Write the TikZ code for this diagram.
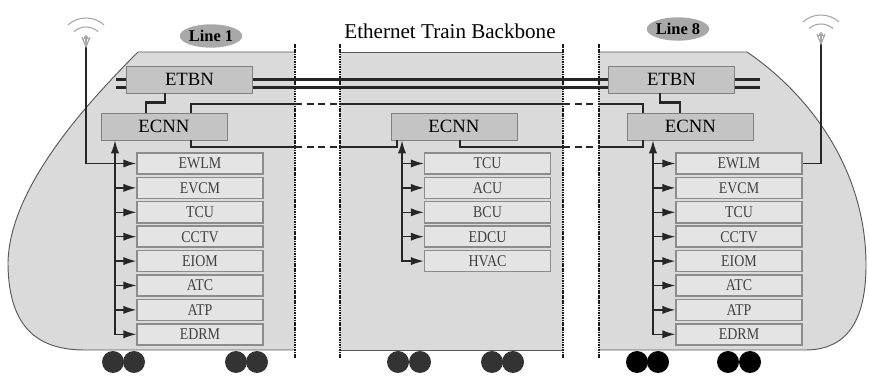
\documentclass[tikz,border=0pt]{standalone}
\usepackage{fontspec}
\setmainfont{Liberation Serif}
\newfontfamily\devfont[FakeStretch=0.85]{Liberation Serif}
\usetikzlibrary{arrows.meta, shapes.geometric}
\definecolor{carroceria}{RGB}{218,218,218}
\definecolor{unidad}{RGB}{196,196,196}
\definecolor{equipof}{RGB}{228,228,228}
\definecolor{etiqueta}{RGB}{168,168,168}

\begin{document}
\begin{tikzpicture}[
        x=0.03cm, y=-0.03cm,
        coche/.style={draw=black!65, line width=0.8pt},
        corte/.style={draw=black!90, line width=1.3pt, dash pattern=on 1.4pt off 0.7pt},
        nodo/.style={
            rectangle, draw=black!50, fill=unidad, line width=0.8pt,
            minimum width=3.78cm, minimum height=0.81cm, inner sep=0pt,
            font=\fontsize{16}{16}\selectfont
        },
        equipo/.style={
            rectangle, draw=black!45, fill=equipof, line width=1.2pt,
            minimum width=3.78cm, minimum height=0.63cm, inner sep=0pt,
            text=black!75, font=\devfont\fontsize{14}{14}\selectfont
        },
        enlace/.style={draw=black!85, line width=2.3pt},
        tramo/.style={enlace, dash pattern=on 6pt off 4pt},
        bus/.style={draw=black!85, line width=1.1pt},
        punta/.tip={Latex[length=11pt, width=7pt]},
        flecha/.style={bus, -punta},
        antena/.style={draw=black!85, line width=1.5pt},
        onda/.style={draw=black!35, line width=0.9pt},
        linea/.style={
            ellipse, fill=etiqueta, minimum width=1.86cm, minimum height=0.7cm,
            inner sep=0pt, font=\fontsize{14}{14}\selectfont\bfseries
        },
        rueda/.style={circle, fill=#1, minimum size=0.66cm, inner sep=0pt}
    ]
    \useasboundingbox (0,0) rectangle (869,377);

    % coches
    \fill[carroceria] (295,52) -- (138,52) .. controls (80,110) and (10,190) .. (8,262)
        .. controls (8,330) and (40,350) .. (85,350) -- (295,350) -- cycle;
    \draw[coche] (295,52) -- (138,52) .. controls (80,110) and (10,190) .. (8,262)
        .. controls (8,330) and (40,350) .. (85,350) -- (295,350);
    \fill[carroceria] (340,52) rectangle (563,350);
    \draw[coche] (340,52) -- (563,52);
    \draw[coche] (340,350) -- (563,350);
    \fill[carroceria] (599,52) -- (747,52) .. controls (810,95) and (866,170) .. (866,265)
        .. controls (866,330) and (840,350) .. (805,350) -- (599,350) -- cycle;
    \draw[coche] (599,52) -- (747,52) .. controls (810,95) and (866,170) .. (866,265)
        .. controls (866,330) and (840,350) .. (805,350) -- (599,350);

    \foreach \x/\nombre in {295/cA, 340/cB, 563/cC, 599/cD} {
        \coordinate (\nombre) at (\x,0);
        \draw[corte] (\x,44) -- (\x,358);
    }
    \coordinate (arriba) at (0,104);
    \coordinate (abajo) at (0,147);

    \foreach \x [count=\n] in {113,134,236,257,398,420,492,513}
        \node[rueda=black!80] (rueda\n) at (\x,362) {};
    \foreach \x [count=\n from 9] in {637,658,728,750}
        \node[rueda=black] (rueda\n) at (\x,362) {};

    \node[linea] (linea1) at (211,36) {Line 1};
    \node[linea] (linea8) at (678,29) {Line 8};
    \node[font=\fontsize{18}{18}\selectfont] (titulo) at (450,31) {Ethernet Train Backbone};

    % switches
    \node[nodo] (etbn1) at (189.5,79.5) {ETBN};
    \node[nodo] (etbn8) at (671.5,79.5) {ETBN};
    \node[nodo] (ecnn1) at (164,126.5) {ECNN};
    \node[nodo] (ecnnM) at (454,126.5) {ECNN};
    \node[nodo] (ecnn8) at (690.5,126.5) {ECNN};

    % equipos de cada coche
    \foreach \texto [count=\n] in {EWLM,EVCM,TCU,CCTV,EIOM,ATC,ATP,EDRM} {
        \node[equipo] (izq\n) at (200,{163.5+24.4*(\n-1)}) {\texto};
        \node[equipo] (der\n) at (739,{163.5+24.4*(\n-1)}) {\texto};
    }
    \foreach \texto [count=\n] in {TCU,ACU,BCU,EDCU,HVAC}
        \node[equipo] (cen\n) at (487.5,{163.5+24.4*(\n-1)}) {\texto};

    % backbone
    \draw[enlace] (etbn1.east) -- (etbn8.west);
    \draw[enlace] ([yshift=-6.8pt]etbn1.east) -- ([yshift=-6.8pt]etbn8.west);
    \draw[enlace] (etbn1.west) -- ++(-10,0);
    \draw[enlace] ([yshift=-6.8pt]etbn1.west) -- ++(-10,0);
    \draw[enlace] (etbn8.east) -- ++(25,0);
    \draw[enlace] ([yshift=-6.8pt]etbn8.east) -- ++(25,0);

    \draw[enlace] ([xshift=-0.735cm]etbn1.south) -- ++(0,9) -| ([xshift=-0.54cm]ecnn1.north);
    \draw[enlace] ([xshift=-0.345cm]etbn8.south) -- ++(0,9) -| ([xshift=-0.315cm]ecnn8.north);

    % anillo ECNN
    \draw[enlace] ([xshift=0.81cm]ecnn1.north) |- (cA |- arriba);
    \draw[tramo] (cA |- arriba) -- (cB |- arriba);
    \draw[enlace] (cB |- arriba) -- (cC |- arriba);
    \draw[tramo] (cC |- arriba) -- (cD |- arriba);
    \draw[enlace] (cD |- arriba) -| ([xshift=-1.425cm]ecnn8.north);

    \draw[enlace] ([xshift=0.81cm]ecnn1.south) |- (cA |- abajo);
    \draw[tramo] (cA |- abajo) -- (cB |- abajo);
    \draw[enlace] (cB |- abajo) -| ([xshift=-1.71cm]ecnnM.south);
    \draw[enlace] ([xshift=0.18cm]ecnnM.south) |- (cC |- abajo);
    \draw[tramo] (cC |- abajo) -- (cD |- abajo);
    \draw[enlace] (cD |- abajo) -| ([xshift=-1.425cm]ecnn8.south);

    % buses
    \coordinate (bus1) at (115,0);
    \coordinate (busM) at (402,0);
    \coordinate (bus8) at (653,0);
    \draw[bus, punta-punta] (bus1 |- ecnn1.south) |- (izq8.west);
    \foreach \n in {2,...,7}
        \draw[flecha] (bus1 |- izq\n.west) -- (izq\n.west);
    \draw[bus, punta-punta] (busM |- ecnnM.south) |- (cen5.west);
    \foreach \n in {1,...,4}
        \draw[flecha] (busM |- cen\n.west) -- (cen\n.west);
    \draw[bus, punta-punta] (bus8 |- ecnn8.south) |- (der8.west);
    \foreach \n in {1,...,7}
        \draw[flecha] (bus8 |- der\n.west) -- (der\n.west);

    % antenas
    \coordinate (antena1) at (86,47);
    \coordinate (antena8) at (821,44);
    \draw[antena, -punta] (antena1) |- (izq1.west);
    \draw[antena] (antena8) |- (der1.east);
    \foreach \a in {antena1, antena8} {
        \draw[onda] ([xshift=-3.4pt, yshift=8.5pt]\a) -- (\a) -- ([xshift=3.4pt, yshift=8.5pt]\a);
        \draw[onda] ([yshift=8.5pt]\a) -- (\a);
        \draw[onda] ([yshift=8.5pt]\a) circle[radius=1.3pt];
        \draw[onda] ([yshift=1.7pt]\a) ++(55:0.21cm) arc[start angle=55, end angle=125, radius=0.21cm];
        \draw[onda] ([yshift=1.7pt]\a) ++(48:0.54cm) arc[start angle=48, end angle=132, radius=0.54cm];
        \draw[onda] ([yshift=1.7pt]\a) ++(48:0.81cm) arc[start angle=48, end angle=132, radius=0.81cm];
    }
\end{tikzpicture}
\end{document}
